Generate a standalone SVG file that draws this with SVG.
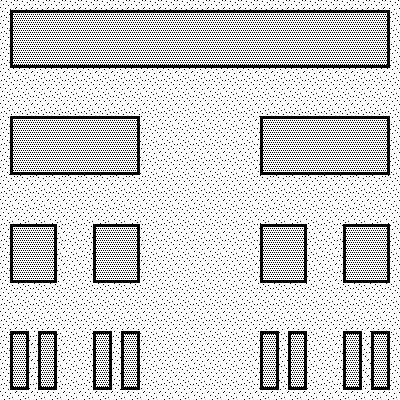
<svg xmlns="http://www.w3.org/2000/svg" width="400" height="400" viewBox="0 0 400 400">
<defs>
<pattern id="sparse" width="16" height="16" patternUnits="userSpaceOnUse">
<rect width="16" height="16" fill="#fff"/>
<g fill="#000">
<rect x="1" y="0" width="1" height="1"/><rect x="6" y="1" width="1" height="1"/><rect x="11" y="2" width="1" height="1"/><rect x="14" y="0" width="1" height="1"/>
<rect x="3" y="4" width="1" height="1"/><rect x="8" y="5" width="1" height="1"/><rect x="13" y="4" width="1" height="1"/><rect x="0" y="7" width="1" height="1"/>
<rect x="5" y="8" width="1" height="1"/><rect x="10" y="9" width="1" height="1"/><rect x="15" y="8" width="1" height="1"/><rect x="2" y="11" width="1" height="1"/>
<rect x="7" y="12" width="1" height="1"/><rect x="12" y="13" width="1" height="1"/><rect x="4" y="15" width="1" height="1"/><rect x="9" y="14" width="1" height="1"/>
</g>
</pattern>
<pattern id="dense" width="4" height="4" patternUnits="userSpaceOnUse">
<rect width="4" height="4" fill="#fff"/>
<g fill="#000">
<rect x="0" y="0" width="1" height="1"/><rect x="2" y="0" width="1" height="1"/>
<rect x="1" y="2" width="1" height="1"/><rect x="3" y="2" width="1" height="1"/>
</g>
</pattern>
</defs>
<style>
.n{fill:url(#dense);stroke:#000;stroke-width:3}
</style>
<rect width="400" height="400" fill="url(#sparse)"/>
<g id="n0"><rect class="n" x="11.5" y="11.5" width="377" height="55"/></g>
<g id="n1"><rect class="n" x="11.5" y="117.5" width="127" height="56"/></g>
<g id="n2"><rect class="n" x="261.5" y="117.5" width="127" height="56"/></g>
<g id="n3"><rect class="n" x="11.5" y="225.5" width="44" height="56"/></g>
<g id="n4"><rect class="n" x="94.5" y="225.5" width="44" height="56"/></g>
<g id="n5"><rect class="n" x="261.5" y="225.5" width="44" height="56"/></g>
<g id="n6"><rect class="n" x="344.5" y="225.5" width="44" height="56"/></g>
<g id="n7"><rect class="n" x="11.5" y="332.5" width="16" height="56"/></g>
<g id="n8"><rect class="n" x="39.5" y="332.5" width="16" height="56"/></g>
<g id="n9"><rect class="n" x="94.5" y="332.5" width="16" height="56"/></g>
<g id="n10"><rect class="n" x="122.5" y="332.5" width="16" height="56"/></g>
<g id="n11"><rect class="n" x="261.5" y="332.5" width="16" height="56"/></g>
<g id="n12"><rect class="n" x="289.5" y="332.5" width="16" height="56"/></g>
<g id="n13"><rect class="n" x="344.5" y="332.5" width="16" height="56"/></g>
<g id="n14"><rect class="n" x="372.5" y="332.5" width="16" height="56"/></g>
<g id="connectors"></g>
</svg>
